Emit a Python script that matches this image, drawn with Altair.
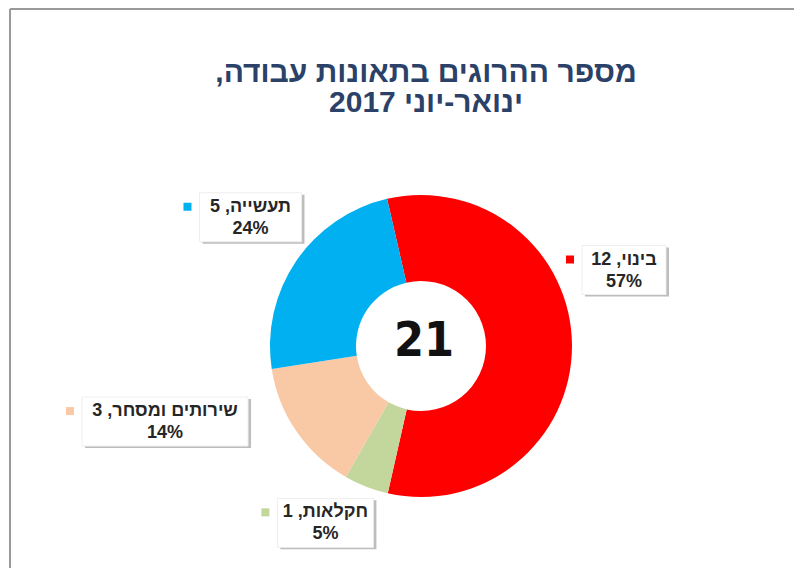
import math
import altair as alt
import pandas as pd

# ---------------- data ----------------
categories = ["בינוי", "חקלאות", "שירותים ומסחר", "תעשייה"]
values = [12, 1, 3, 5]
colors = ["#FF0000", "#C3D69B", "#F9C9A6", "#00B0F0"]
title_lines = ["מספר ההרוגים בתאונות עבודה,\u200f", "ינואר-יוני 2017"]

# ---------------- styling / layout ----------------
W, H = 786, 560
CX, CY = 413, 338
R_OUT, R_IN = 151, 65
START = math.radians(-13)
LABEL_R = 200
FONT = "Liberation Sans, Arial, sans-serif"
label_style = pd.DataFrame({
    "category": categories,
    "ndx": [3, -23, -91, -5],
    "ndy": [-75, -9, -37, -16],
    "bw": [84, 96, 166, 102],
})

df = pd.DataFrame({"category": categories, "value": values,
                   "order": list(range(len(categories)))})

color_scale = alt.Scale(domain=categories, range=colors)

base = (
    alt.Chart(df)
    .transform_joinaggregate(total="sum(value)")
    .transform_window(cum="sum(value)", sort=[alt.SortField("order")], frame=[None, 0])
    .transform_lookup(lookup="category",
                      from_=alt.LookupData(label_style, "category", ["ndx", "ndy", "bw"]))
    .transform_calculate(
        mid=f"{START} + 2*PI*(datum.cum - datum.value/2)/datum.total",
        pct="round(datum.value/datum.total*100)",
        line1="datum.category + ', ' + datum.value",
        line2="datum.pct + '%'",
        lx=f"{CX} + {LABEL_R}*sin(datum.mid) + datum.ndx",
        ly=f"{CY} - {LABEL_R}*cos(datum.mid) + datum.ndy",
        bx1="datum.lx - datum.bw/2",
        bx2="datum.lx + datum.bw/2",
        by1="datum.ly - 25",
        by2="datum.ly + 24",
        sx1="datum.bx1 + 3",
        sx2="datum.bx2 + 3",
        sy1="datum.by1 + 2",
        sy2="datum.by2 + 2",
        mx="datum.bx1 - 12",
        t1y="datum.ly - 11",
        t2y="datum.ly + 11",
    )
)

one = pd.DataFrame({"a": [0]})

frame_left = alt.Chart(one).mark_rule(color="#9A9A9A", strokeWidth=2).encode(
    x=alt.value(2), y=alt.value(1), y2=alt.value(H))
frame_top = alt.Chart(one).mark_rule(color="#9A9A9A", strokeWidth=2).encode(
    x=alt.value(2), x2=alt.value(W), y=alt.value(1))

arcs = base.mark_arc(innerRadius=R_IN, outerRadius=R_OUT).encode(
    theta=alt.Theta("value:Q", stack=True,
                    scale=alt.Scale(range=[START, START + 2 * math.pi])),
    color=alt.Color("category:N", scale=color_scale, legend=None),
    order=alt.Order("order:Q"),
    x=alt.value(CX), y=alt.value(CY),
)

shadow = base.mark_rect(color="#BDBDBD").encode(
    x=alt.X("sx1:Q", scale=None, axis=None), x2="sx2:Q",
    y=alt.Y("sy1:Q", scale=None, axis=None), y2="sy2:Q")

box = base.mark_rect(fill="white", stroke="#EEEEEE", strokeWidth=1).encode(
    x=alt.X("bx1:Q", scale=None, axis=None), x2="bx2:Q",
    y=alt.Y("by1:Q", scale=None, axis=None), y2="by2:Q")

marker = base.mark_square(size=64, opacity=1).encode(
    x=alt.X("mx:Q", scale=None, axis=None),
    y=alt.Y("t1y:Q", scale=None, axis=None),
    color=alt.Color("category:N", scale=color_scale, legend=None))

text1 = base.mark_text(font=FONT, fontSize=18, fontWeight="bold", color="#262626").encode(
    x=alt.X("lx:Q", scale=None, axis=None),
    y=alt.Y("t1y:Q", scale=None, axis=None),
    text="line1:N")

text2 = base.mark_text(font=FONT, fontSize=18, fontWeight="bold", color="#262626").encode(
    x=alt.X("lx:Q", scale=None, axis=None),
    y=alt.Y("t2y:Q", scale=None, axis=None),
    text="line2:N")

center = (
    alt.Chart(df)
    .transform_aggregate(total="sum(value)")
    .mark_text(font="Liberation Sans Narrow, DejaVu Sans Condensed, sans-serif",
               fontSize=48, fontWeight="bold", color="#111111")
    .encode(text="total:Q", x=alt.value(CX + 3), y=alt.value(CY - 4))
)

title = (
    alt.Chart(pd.DataFrame({"t": title_lines, "i": [0, 1]}))
    .transform_calculate(ty="65 + datum.i*30")
    .mark_text(font=FONT, fontSize=30, fontWeight="bold", color="#2B4168")
    .encode(text="t:N", x=alt.value(418),
            y=alt.Y("ty:Q", scale=None, axis=None))
)

chart = (
    alt.layer(frame_left, frame_top, arcs, shadow, box, marker, text1, text2, center, title)
    .properties(width=W, height=H, padding=0, autosize=alt.AutoSizeParams(type="none"),
                background="white")
    .configure_view(stroke=None)
)

chart.save("out.html", embed_options={"renderer": "svg", "actions": False})
